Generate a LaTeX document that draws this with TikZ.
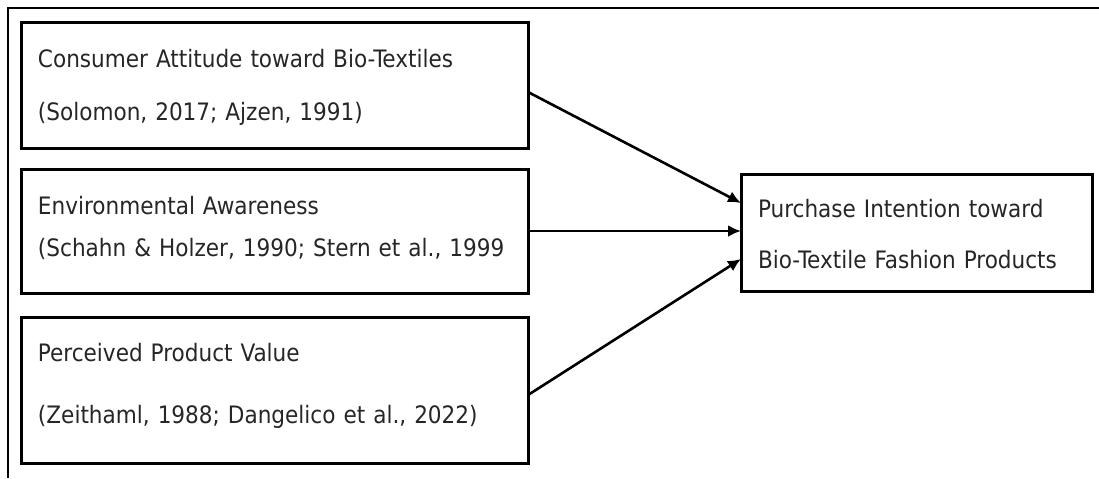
\documentclass[tikz,border=0pt]{standalone}
\usepackage{fontspec}
\setmainfont{DejaVu Sans Condensed}
\usetikzlibrary{positioning,arrows.meta}

\begin{document}
\begin{tikzpicture}[x=0.5pt,y=-0.5pt,every node/.style={outer sep=0pt},
    factor/.style={draw,line width=1.5pt,minimum width=253.5pt,text width=236.5pt,
    align=left,inner xsep=8.5pt,inner ysep=0pt,text=black!85,
    font=\fontsize{12pt}{#1}\selectfont},
    outcome/.style={draw,line width=1.5pt,minimum width=175.5pt,text width=158.5pt,
    align=left,inner xsep=8.5pt,inner ysep=0pt,text=black!85,
    font=\fontsize{12pt}{#1}\selectfont},
    link/.style={line width=1.3pt,-{Latex[length=6.5pt,width=6pt]}}]

    \useasboundingbox (0,0) rectangle (1099,478);
    \draw[line width=1.1pt] (1099,8) -- (8,8) -- (8,478);

    \node[factor=26.5pt,text height=22.5pt,text depth=40.5pt,anchor=north west] (att) at (21,22)
      {Consumer Attitude toward Bio-Textiles\\(Solomon, 2017; Ajzen, 1991)};
    \node[factor=21pt,text height=22.5pt,text depth=39.5pt,below=10.5pt of att] (env)
      {Environmental Awareness\\(Schahn \& Holzer, 1990; Stern et al., 1999};
    \node[factor=31pt,text height=22pt,text depth=51pt,below=12pt of env] (ppv)
      {Perceived Product Value\\(Zeithaml, 1988; Dangelico et al., 2022)};
    \node[outcome=25.5pt,text height=21.5pt,text depth=37pt,right=106.5pt of env,yshift=-0.75pt] (pi)
      {Purchase Intention toward\\Bio-Textile Fashion Products};

    \draw[link] ([yshift=-3.5pt]att.east) -- ([yshift=14.75pt]pi.west);
    \draw[link] (env.east) -- (env.east -| pi.west);
    \draw[link] ([yshift=-2.5pt]ppv.east) -- ([yshift=-13.25pt]pi.west);
\end{tikzpicture}
\end{document}
